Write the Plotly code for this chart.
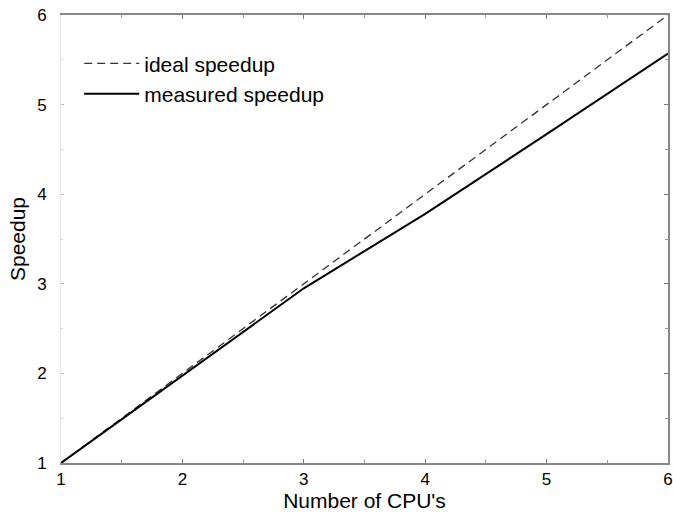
import plotly.graph_objects as go

cpus = [1, 2, 3, 4, 5, 6]
ideal_speedup = [1, 2, 3, 4, 5, 6]
measured_speedup = [1, 1.98, 2.95, 3.78, 4.67, 5.57]
tick_vals = [1, 2, 3, 4, 5, 6]

FONT = "Liberation Sans, Arial, sans-serif"

fig = go.Figure()
fig.add_trace(go.Scatter(x=cpus, y=ideal_speedup, mode="lines", name="ideal speedup",
                         line=dict(color="#333333", width=1.3, dash="8px,5px")))
fig.add_trace(go.Scatter(x=cpus, y=measured_speedup, mode="lines", name="measured speedup",
                         line=dict(color="black", width=2)))
# invisible trace for right-side axis
fig.add_trace(go.Scatter(x=cpus, y=ideal_speedup, yaxis="y2", mode="lines",
                         line=dict(width=0), showlegend=False, hoverinfo="skip", opacity=0))

fig.update_layout(
    width=673, height=512,
    margin=dict(l=61, r=5, t=15, b=49, autoexpand=False),
    paper_bgcolor="white", plot_bgcolor="white",
    font=dict(family=FONT, size=16, color="black"),
    showlegend=True,
    legend=dict(x=0.03, y=0.937, xanchor="left", yanchor="top",
                bgcolor="rgba(0,0,0,0)", font=dict(size=21, family=FONT),
                tracegroupgap=0, itemwidth=55),
    xaxis=dict(range=[1, 6], tickvals=tick_vals, ticks="inside", ticklen=4,
               tickcolor="#777", showline=True, linecolor="#888", linewidth=1.5,
               mirror="ticks", showgrid=False, zeroline=False, automargin=False,
               minor=dict(ticks="inside", dtick=0.5, tick0=1, ticklen=3, tickcolor="#999"),
               title=dict(text="Number of CPU's", font=dict(size=21), standoff=2),
               tickfont=dict(size=17), ticklabelstandoff=0, ticklabeloverflow="allow"),
    yaxis=dict(range=[1, 6], tickvals=tick_vals, ticks="inside", ticklen=3,
               tickcolor="#bbb", showline=True, linecolor="#e6e6e6", linewidth=1,
               showgrid=False, zeroline=False, automargin=False,
               minor=dict(ticks="inside", dtick=0.5, tick0=1, ticklen=2, tickcolor="#ccc"),
               title=dict(text="Speedup", font=dict(size=21), standoff=5),
               tickfont=dict(size=17), ticklabelstandoff=10, ticklabeloverflow="allow"),
    yaxis2=dict(range=[1, 6], overlaying="y", side="right", showticklabels=False,
                tickvals=tick_vals, ticks="inside", ticklen=4, tickcolor="#777",
                showline=True, linecolor="#888", linewidth=1.5, showgrid=False,
                zeroline=False, automargin=False,
                minor=dict(ticks="inside", dtick=0.5, tick0=1, ticklen=3, tickcolor="#999")),
)

fig.write_html("out.html", config={"displayModeBar": False},
               post_script="document.body.style.margin='0';document.body.style.overflow='hidden';")
